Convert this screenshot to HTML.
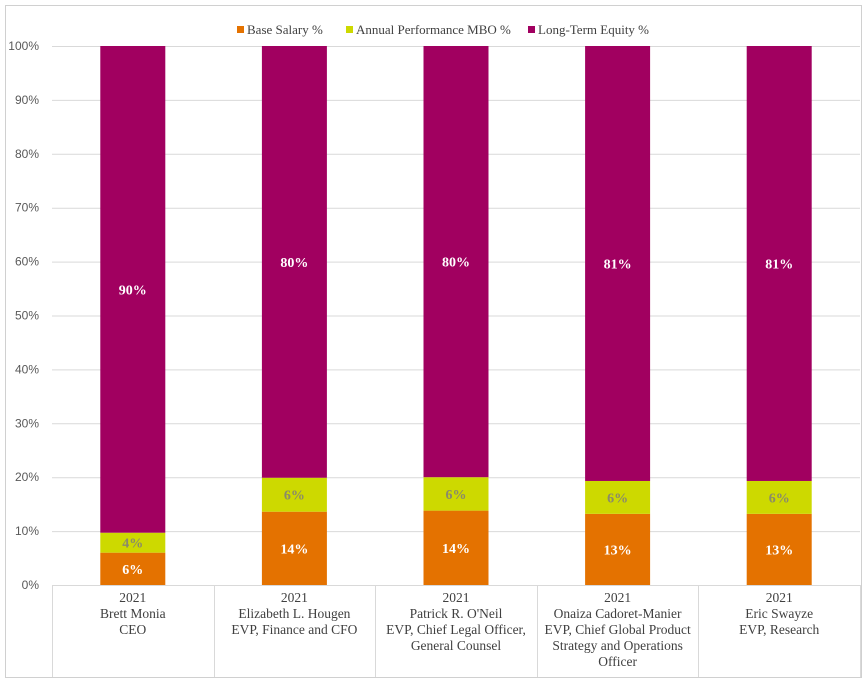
<!DOCTYPE html>
<html><head><meta charset="utf-8"><style>
html,body{margin:0;padding:0;background:#fff;}
svg{display:block;}
</style></head><body>
<svg id="chart" width="865" height="681" xmlns="http://www.w3.org/2000/svg">
<rect x="5.5" y="5.5" width="856" height="672" fill="#fff" stroke="#d0d0d0"/>
<g id="grid"></g><g id="bars"></g><g id="axes"></g><g id="legend"></g>
</svg>
<script>
const categories=[["2021","Brett Monia","CEO"],["2021","Elizabeth L. Hougen","EVP, Finance and CFO"],["2021","Patrick R. O'Neil","EVP, Chief Legal Officer,","General Counsel"],["2021","Onaiza Cadoret-Manier","EVP, Chief Global Product","Strategy and Operations","Officer"],["2021","Eric Swayze","EVP, Research"]];
const baseSalary=[6,13.6,13.8,13.2,13.2];
const mbo=[3.7,6.3,6.2,6.1,6.1];
const equity=[90.3,80.1,80,80.7,80.7];
const yTicks=[0,10,20,30,40,50,60,70,80,90,100];
const seriesNames=["Base Salary %","Annual Performance MBO %","Long-Term Equity %"];
const colors=["#e47200","#cdd900","#a10060"];
const labelColors=["#fff","#8a8a6a","#fff"];
const NS="http://www.w3.org/2000/svg";
const X0=52,X1=860,Y0=585,Y1=46,BW=65;
const catW=(X1-X0)/categories.length;
const y=v=>Y0-(Y0-Y1)*v/100;
const cx=i=>X0+catW*(i+0.5);
function mk(tag,attrs,parent,text){const e=document.createElementNS(NS,tag);for(const k in attrs)e.setAttribute(k,attrs[k]);if(text!==undefined)e.textContent=text;parent.appendChild(e);return e;}
const grid=document.getElementById('grid'),bars=document.getElementById('bars'),axes=document.getElementById('axes'),legend=document.getElementById('legend');
yTicks.forEach(t=>{
 const l=mk('line',{x1:X0,x2:X1,y1:y(t)+0.5,y2:y(t)+0.5,stroke:'#d9d9d9'},grid);
 
 
 const tx=mk('text',{x:X0-13,y:y(t)+4,'text-anchor':'end','font-family':'Liberation Sans, sans-serif','font-size':'12',fill:'#595959'},axes,t+'%');
 
 
});
const series=[baseSalary,mbo,equity];
categories.forEach((c,i)=>{
 let acc=0;
 series.forEach((s,k)=>{
  const v=s[i];
  const r=mk('rect',{x:cx(i)-BW/2,y:y(acc+v),width:BW,height:y(acc)-y(acc+v),fill:colors[k]},bars);
  
  
  const t=mk('text',{x:cx(i),y:(y(acc)+y(acc+v))/2+5,'text-anchor':'middle','font-family':'Liberation Serif, serif','font-size':'14','font-weight':'bold',fill:labelColors[k]},bars,Math.round(v)+'%');
  
  
  acc+=v;
 });
 c.forEach((line,j)=>{
  const t=mk('text',{x:cx(i),y:Y0+17+j*16,'text-anchor':'middle','font-family':'Liberation Serif, serif','font-size':'13.5',fill:'#404040'},axes,line);
  
  
 });
});
for(let i=0;i<=categories.length;i++){
 const xx=Math.round(X0+catW*i)+0.5;
 const l=mk('line',{x1:xx,x2:xx,y1:Y0,y2:677,stroke:'#d9d9d9'},axes);
 
 
}
const ax=mk('line',{x1:X0,x2:X1,y1:Y0+0.5,y2:Y0+0.5,stroke:'#d9d9d9'},axes);


const lx=[237,346,528];
seriesNames.forEach((n,k)=>{
 const sw=mk('rect',{x:lx[k],y:26,width:7,height:7,fill:colors[k]},legend);
 
 
 const t=mk('text',{x:lx[k]+10,y:34,'font-family':'Liberation Serif, serif','font-size':'13',fill:'#404040'},legend,n);
 
 
});
</script>
</body></html>
